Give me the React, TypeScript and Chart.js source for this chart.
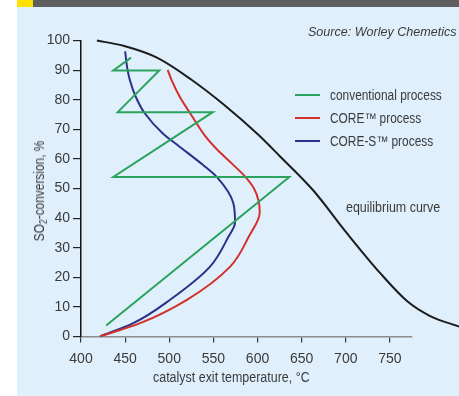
import React, { useEffect, useRef } from "react";
import { Chart, registerables } from "chart.js";

Chart.register(...registerables);

const FONT = '"Liberation Sans Narrow", "Arial Narrow", "Liberation Sans", Arial, sans-serif';
const TEXT = "#3a3a3a";

// Equilibrium curve
const equilibriumX = [418, 448, 486, 524, 562, 600, 625, 663, 701, 739, 770, 795, 830];
const equilibriumY = [100, 98.2, 94.2, 87, 78.3, 68.4, 61, 49.4, 35, 21.4, 11.8, 7, 3.2];

// Conventional process (zig-zag)
const conventionalX = [428.5, 636, 436.6, 549.3, 441.6, 488.7, 436.6, 456.7];
const conventionalY = [3.7, 53.9, 53.9, 75.8, 75.8, 89.9, 89.9, 94.2];

// CORE process
const coreX = [421.5, 467, 520, 569, 590, 602.5, 601, 596, 586, 571, 555, 541, 523.5, 512, 502.8, 498.2];
const coreY = [0, 4.5, 12.4, 23.6, 33.7, 42, 46, 50, 54, 58.4, 62.9, 67.6, 75.5, 80.9, 86.5, 90.1];

// CORE-S process
const coreSX = [421.5, 459.3, 500.9, 546.2, 567, 574.5, 572.6, 553.8, 538, 511, 493, 472, 462, 455.5, 452.5, 450];
const coreSY = [0, 4.5, 12.4, 23.6, 33.7, 38.5, 45, 53.9, 58, 64.3, 68.5, 75.5, 81, 86.5, 90.5, 96.3];

const xTicks = [400, 450, 500, 550, 600, 650, 700, 750];
const yTicks = [0, 10, 20, 30, 40, 50, 60, 70, 80, 90, 100];
const X_MIN = 400;
const X_MAX = 775;

const legendItems = [
  { label: "conventional process", color: "#2ba35d" },
  { label: "CORE\u2122 process", color: "#d3302c" },
  { label: "CORE-S\u2122 process", color: "#2a3188" },
];

const toPts = (xs: number[], ys: number[]) => xs.map((x, i) => ({ x, y: ys[i] }));

export default function App() {
  const ref = useRef<HTMLCanvasElement>(null);

  useEffect(() => {
    if (!ref.current) return;
    const chart = new Chart(ref.current, {
      type: "scatter",
      data: {
        datasets: [
          {
            label: "equilibrium curve",
            data: toPts(equilibriumX, equilibriumY),
            showLine: true,
            borderColor: "#1c1c1c",
            borderWidth: 2,
            pointRadius: 0,
            cubicInterpolationMode: "monotone",
            clip: false,
          } as any,
          {
            label: legendItems[0].label,
            data: toPts(conventionalX, conventionalY),
            showLine: true,
            borderColor: legendItems[0].color,
            borderWidth: 2,
            pointRadius: 0,
            tension: 0,
          },
          {
            label: legendItems[1].label,
            data: toPts(coreX, coreY),
            showLine: true,
            indexAxis: "y",
            borderColor: legendItems[1].color,
            borderWidth: 2,
            pointRadius: 0,
            cubicInterpolationMode: "monotone",
          } as any,
          {
            label: legendItems[2].label,
            data: toPts(coreSX, coreSY),
            showLine: true,
            indexAxis: "y",
            borderColor: legendItems[2].color,
            borderWidth: 2,
            pointRadius: 0,
            cubicInterpolationMode: "monotone",
          } as any,
        ],
      },
      options: {
        animation: false,
        responsive: false,
        events: [],
        layout: { padding: { left: 0, top: 40.5, right: 47, bottom: 29.5 } },
        plugins: { legend: { display: false }, tooltip: { enabled: false } },
        scales: {
          x: {
            type: "linear",
            bounds: "data",
            afterDataLimits: (s: any) => {
              s.min = X_MIN;
              s.max = X_MAX;
            },
            afterBuildTicks: (s: any) => {
              s.ticks = xTicks.map((v) => ({ value: v }));
              s.min = X_MIN;
              s.max = X_MAX;
            },
            afterFit: (s: any) => {
              s.height = 30;
            },
            grid: { drawOnChartArea: false, drawTicks: true, tickLength: 6, color: "#333", lineWidth: 1.2 },
            border: { color: "#8c8c8c", width: 1.5 },
            ticks: { font: { family: FONT, size: 14 }, color: TEXT, padding: 8, maxRotation: 0, autoSkip: false },
          },
          y: {
            type: "linear",
            min: 0,
            max: 100,
            afterBuildTicks: (s: any) => {
              s.ticks = yTicks.map((v) => ({ value: v }));
            },
            afterFit: (s: any) => {
              s.width = 81;
            },
            grid: { drawOnChartArea: false, drawTicks: true, tickLength: 8, color: "#222", lineWidth: 1.2 },
            border: { color: "#111", width: 1.5 },
            ticks: { font: { family: FONT, size: 14 }, color: TEXT, padding: 3, autoSkip: false },
          },
        },
      },
    });
    return () => chart.destroy();
  }, []);

  const textStyle: React.CSSProperties = {
    position: "absolute",
    fontFamily: FONT,
    fontSize: 14,
    color: TEXT,
    whiteSpace: "nowrap",
    lineHeight: "16px",
    transformOrigin: "left center",
  };

  return (
    <div style={{ position: "absolute", left: 0, top: 0, width: 459, height: 396, overflow: "hidden", background: "#ffffff" }}>
      <div style={{ position: "absolute", left: 17, top: 7, width: 442, height: 389, background: "#dff0fc" }} />
      <div style={{ position: "absolute", left: 17, top: 0, width: 16, height: 7, background: "#ffe000" }} />
      <div style={{ position: "absolute", left: 33, top: 0, width: 426, height: 7, background: "#5f5f5f" }} />
      <canvas ref={ref} width={459} height={396} style={{ position: "absolute", left: 0, top: 0, width: 459, height: 396 }} />
      <div style={{ ...textStyle, left: 308, top: 24, fontStyle: "italic", fontSize: 13.5, transform: "scaleX(0.93)" }}>
        Source: Worley Chemetics
      </div>
      {legendItems.map((it, i) => (
        <React.Fragment key={it.label}>
          <div style={{ position: "absolute", left: 295, top: 94 + i * 22.8, width: 25, height: 2, background: it.color }} />
          <div style={{ ...textStyle, left: 330, top: 87 + i * 22.8, transform: "scaleX(0.85)" }}>{it.label}</div>
        </React.Fragment>
      ))}
      <div style={{ ...textStyle, left: 346, top: 199, transform: "scaleX(0.89)" }}>equilibrium curve</div>
      <div style={{ ...textStyle, left: 153, top: 369, transform: "scaleX(0.89)" }}>catalyst exit temperature, °C</div>
      <div
        style={{
          ...textStyle,
          left: 39,
          top: 191,
          transformOrigin: "center center",
          transform: "translate(-50%, -50%) rotate(-90deg) scaleX(0.85)",
        }}
      >
        SO<sub style={{ fontSize: 10, verticalAlign: "-3px", lineHeight: 0 }}>2</sub>-conversion, %
      </div>
    </div>
  );
}
